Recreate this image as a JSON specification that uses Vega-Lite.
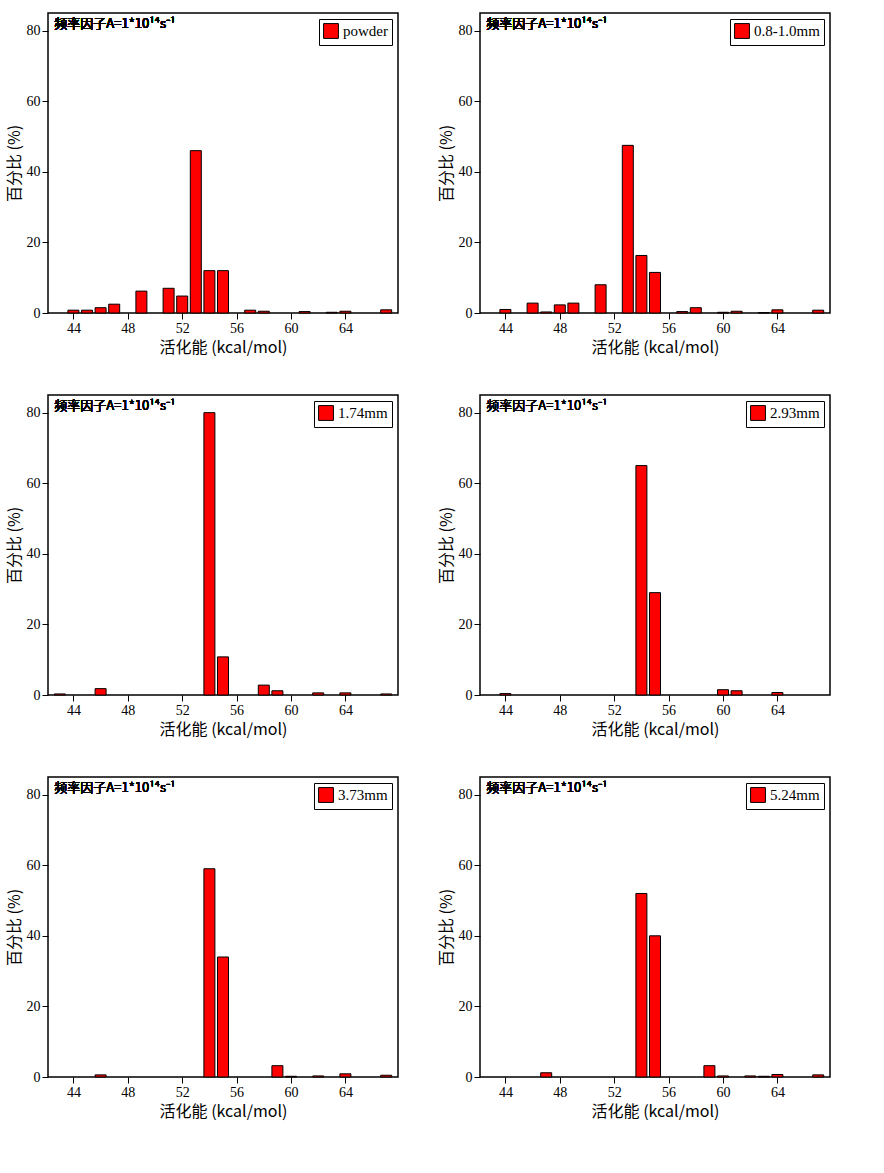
{
  "$schema": "https://vega.github.io/schema/vega-lite/v6.json",
  "background": "white",
  "padding": {"left": 5, "top": 12, "right": 10, "bottom": 5},
  "config": {
    "view": {"stroke": "black", "strokeWidth": 1.5},
    "font": "Liberation Serif",
    "axis": {"domain": false, "grid": false, "tickColor": "black", "tickSize": 6, "labelOverlap": false, "labelFont": "Liberation Serif", "labelFontSize": 14, "labelColor": "black", "titleFont": "Noto Sans CJK SC", "titleFontSize": 16, "titleFontWeight": "normal", "titleColor": "black"},
    "text": {"fontWeight": "normal"},
    "legend": {"orient": "top-right", "offset": 6, "strokeColor": "black", "padding": 4, "symbolType": "square", "symbolSize": 220, "symbolStrokeColor": "black", "symbolStrokeWidth": 1, "labelFont": "Liberation Serif", "labelFontSize": 15, "labelColor": "black", "fillColor": "white"},
    "concat": {"spacing": 38}
  },
  "datasets": {
    "p1": [{"e":44,"v":0.8},{"e":45,"v":0.8},{"e":46,"v":1.5},{"e":47,"v":2.5},{"e":49,"v":6.2},{"e":51,"v":7},{"e":52,"v":4.8},{"e":53,"v":46},{"e":54,"v":12},{"e":55,"v":12},{"e":57,"v":0.8},{"e":58,"v":0.5},{"e":61,"v":0.4},{"e":63,"v":0.2},{"e":64,"v":0.5},{"e":67,"v":0.9}],
    "p2": [{"e":44,"v":1},{"e":46,"v":2.8},{"e":47,"v":0.3},{"e":48,"v":2.3},{"e":49,"v":2.8},{"e":51,"v":8},{"e":53,"v":47.5},{"e":54,"v":16.3},{"e":55,"v":11.5},{"e":57,"v":0.4},{"e":58,"v":1.5},{"e":60,"v":0.2},{"e":61,"v":0.5},{"e":63,"v":0.1},{"e":64,"v":0.9},{"e":67,"v":0.8}],
    "p3": [{"e":43,"v":0.3},{"e":46,"v":1.8},{"e":54,"v":80},{"e":55,"v":10.8},{"e":58,"v":2.8},{"e":59,"v":1.2},{"e":62,"v":0.6},{"e":64,"v":0.6},{"e":67,"v":0.3}],
    "p4": [{"e":44,"v":0.4},{"e":54,"v":65},{"e":55,"v":29},{"e":60,"v":1.5},{"e":61,"v":1.2},{"e":64,"v":0.7}],
    "p5": [{"e":46,"v":0.6},{"e":54,"v":59},{"e":55,"v":34},{"e":59,"v":3.2},{"e":60,"v":0.2},{"e":62,"v":0.3},{"e":64,"v":0.9},{"e":67,"v":0.5}],
    "p6": [{"e":47,"v":1.2},{"e":54,"v":52},{"e":55,"v":40},{"e":59,"v":3.2},{"e":60,"v":0.3},{"e":62,"v":0.3},{"e":63,"v":0.2},{"e":64,"v":0.7},{"e":67,"v":0.6}]
  },
  "vconcat": [
    {"hconcat": [
      {"data": {"name": "p1"}, "width": 350, "height": 300, "layer": [
        {"mark": {"type": "bar", "size": 11, "fill": "#ff0000", "stroke": "black", "strokeWidth": 1},
         "encoding": {
           "x": {"field": "e", "type": "quantitative", "scale": {"domain": [42.5, 67.5], "nice": false, "zero": false}, "axis": {"values": [44,46,48,50,52,54,56,58,60,62,64,66], "title": "活化能 (kcal/mol)"}},
           "y": {"field": "v", "type": "quantitative", "scale": {"domain": [0, 85], "nice": false}, "axis": {"values": [0,10,20,30,40,50,60,70,80], "title": "百分比 (%)"}},
           "color": {"datum": "powder", "type": "nominal", "scale": {"domain": ["powder"], "range": ["#ff0000"]}, "legend": {"title": null}}}},
        {"mark": {"type": "text", "align": "left", "baseline": "middle", "font": "Noto Sans CJK SC", "fontSize": 13, "fontWeight": "normal"}, "encoding": {"x": {"datum": 42.6}, "y": {"datum": 82}, "text": {"value": "频率因子A=1*10¹⁴s⁻¹"}}}
      ]},
      {"data": {"name": "p2"}, "width": 350, "height": 300, "layer": [
        {"mark": {"type": "bar", "size": 11, "fill": "#ff0000", "stroke": "black", "strokeWidth": 1},
         "encoding": {
           "x": {"field": "e", "type": "quantitative", "scale": {"domain": [42.5, 67.5], "nice": false, "zero": false}, "axis": {"values": [44,46,48,50,52,54,56,58,60,62,64,66], "title": "活化能 (kcal/mol)"}},
           "y": {"field": "v", "type": "quantitative", "scale": {"domain": [0, 85], "nice": false}, "axis": {"values": [0,10,20,30,40,50,60,70,80], "title": "百分比 (%)"}},
           "color": {"datum": "0.8-1.0mm", "type": "nominal", "scale": {"domain": ["0.8-1.0mm"], "range": ["#ff0000"]}, "legend": {"title": null}}}},
        {"mark": {"type": "text", "align": "left", "baseline": "middle", "font": "Noto Sans CJK SC", "fontSize": 13, "fontWeight": "normal"}, "encoding": {"x": {"datum": 42.6}, "y": {"datum": 82}, "text": {"value": "频率因子A=1*10¹⁴s⁻¹"}}}
      ]}
    ], "resolve": {"scale": {"color": "independent"}, "legend": {"color": "independent"}}},
    {"hconcat": [
      {"data": {"name": "p3"}, "width": 350, "height": 300, "layer": [
        {"mark": {"type": "bar", "size": 11, "fill": "#ff0000", "stroke": "black", "strokeWidth": 1},
         "encoding": {
           "x": {"field": "e", "type": "quantitative", "scale": {"domain": [42.5, 67.5], "nice": false, "zero": false}, "axis": {"values": [44,46,48,50,52,54,56,58,60,62,64,66], "title": "活化能 (kcal/mol)"}},
           "y": {"field": "v", "type": "quantitative", "scale": {"domain": [0, 85], "nice": false}, "axis": {"values": [0,10,20,30,40,50,60,70,80], "title": "百分比 (%)"}},
           "color": {"datum": "1.74mm", "type": "nominal", "scale": {"domain": ["1.74mm"], "range": ["#ff0000"]}, "legend": {"title": null}}}},
        {"mark": {"type": "text", "align": "left", "baseline": "middle", "font": "Noto Sans CJK SC", "fontSize": 13, "fontWeight": "normal"}, "encoding": {"x": {"datum": 42.6}, "y": {"datum": 82}, "text": {"value": "频率因子A=1*10¹⁴s⁻¹"}}}
      ]},
      {"data": {"name": "p4"}, "width": 350, "height": 300, "layer": [
        {"mark": {"type": "bar", "size": 11, "fill": "#ff0000", "stroke": "black", "strokeWidth": 1},
         "encoding": {
           "x": {"field": "e", "type": "quantitative", "scale": {"domain": [42.5, 67.5], "nice": false, "zero": false}, "axis": {"values": [44,46,48,50,52,54,56,58,60,62,64,66], "title": "活化能 (kcal/mol)"}},
           "y": {"field": "v", "type": "quantitative", "scale": {"domain": [0, 85], "nice": false}, "axis": {"values": [0,10,20,30,40,50,60,70,80], "title": "百分比 (%)"}},
           "color": {"datum": "2.93mm", "type": "nominal", "scale": {"domain": ["2.93mm"], "range": ["#ff0000"]}, "legend": {"title": null}}}},
        {"mark": {"type": "text", "align": "left", "baseline": "middle", "font": "Noto Sans CJK SC", "fontSize": 13, "fontWeight": "normal"}, "encoding": {"x": {"datum": 42.6}, "y": {"datum": 82}, "text": {"value": "频率因子A=1*10¹⁴s⁻¹"}}}
      ]}
    ], "resolve": {"scale": {"color": "independent"}, "legend": {"color": "independent"}}},
    {"hconcat": [
      {"data": {"name": "p5"}, "width": 350, "height": 300, "layer": [
        {"mark": {"type": "bar", "size": 11, "fill": "#ff0000", "stroke": "black", "strokeWidth": 1},
         "encoding": {
           "x": {"field": "e", "type": "quantitative", "scale": {"domain": [42.5, 67.5], "nice": false, "zero": false}, "axis": {"values": [44,46,48,50,52,54,56,58,60,62,64,66], "title": "活化能 (kcal/mol)"}},
           "y": {"field": "v", "type": "quantitative", "scale": {"domain": [0, 85], "nice": false}, "axis": {"values": [0,10,20,30,40,50,60,70,80], "title": "百分比 (%)"}},
           "color": {"datum": "3.73mm", "type": "nominal", "scale": {"domain": ["3.73mm"], "range": ["#ff0000"]}, "legend": {"title": null}}}},
        {"mark": {"type": "text", "align": "left", "baseline": "middle", "font": "Noto Sans CJK SC", "fontSize": 13, "fontWeight": "normal"}, "encoding": {"x": {"datum": 42.6}, "y": {"datum": 82}, "text": {"value": "频率因子A=1*10¹⁴s⁻¹"}}}
      ]},
      {"data": {"name": "p6"}, "width": 350, "height": 300, "layer": [
        {"mark": {"type": "bar", "size": 11, "fill": "#ff0000", "stroke": "black", "strokeWidth": 1},
         "encoding": {
           "x": {"field": "e", "type": "quantitative", "scale": {"domain": [42.5, 67.5], "nice": false, "zero": false}, "axis": {"values": [44,46,48,50,52,54,56,58,60,62,64,66], "title": "活化能 (kcal/mol)"}},
           "y": {"field": "v", "type": "quantitative", "scale": {"domain": [0, 85], "nice": false}, "axis": {"values": [0,10,20,30,40,50,60,70,80], "title": "百分比 (%)"}},
           "color": {"datum": "5.24mm", "type": "nominal", "scale": {"domain": ["5.24mm"], "range": ["#ff0000"]}, "legend": {"title": null}}}},
        {"mark": {"type": "text", "align": "left", "baseline": "middle", "font": "Noto Sans CJK SC", "fontSize": 13, "fontWeight": "normal"}, "encoding": {"x": {"datum": 42.6}, "y": {"datum": 82}, "text": {"value": "频率因子A=1*10¹⁴s⁻¹"}}}
      ]}
    ], "resolve": {"scale": {"color": "independent"}, "legend": {"color": "independent"}}}
  ],
  "resolve": {"scale": {"color": "independent"}, "legend": {"color": "independent"}}
}
